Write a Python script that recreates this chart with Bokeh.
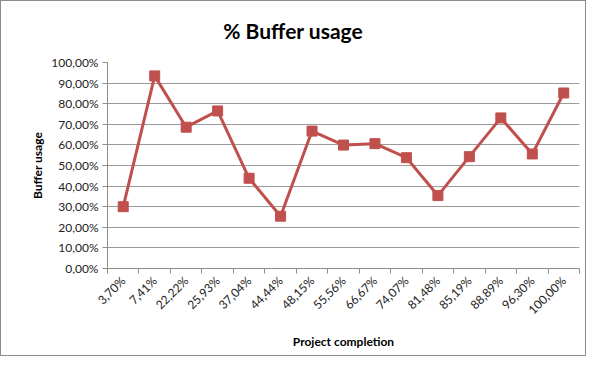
from math import pi
from bokeh.plotting import figure
from bokeh.layouts import column
from bokeh.models import FixedTicker, Range1d, ColumnDataSource, Div
from bokeh.embed import file_html
from bokeh.resources import INLINE

categories = ["3,70%", "7,41%", "22,22%", "25,93%", "37,04%", "44,44%", "48,15%", "55,56%",
              "66,67%", "74,07%", "81,48%", "85,19%", "88,89%", "96,30%", "100,00%"]
usage = [0.300, 0.935, 0.686, 0.765, 0.438, 0.254, 0.667, 0.599, 0.606, 0.538, 0.354, 0.543, 0.731, 0.556, 0.852]
y_ticks = [0.0, 0.1, 0.2, 0.3, 0.4, 0.5, 0.6, 0.7, 0.8, 0.9, 1.0]
y_labels = ["0,00%", "10,00%", "20,00%", "30,00%", "40,00%", "50,00%", "60,00%", "70,00%", "80,00%", "90,00%", "100,00%"]
title_text = "% Buffer usage"

xs = [i + 0.5 for i in range(len(categories))]
src = ColumnDataSource(dict(x=xs, y=usage))

FONT = "Lato"
W = 584
TITLE_H = 53

title = Div(text=title_text, width=W, height=TITLE_H,
            styles={"font-family": FONT, "font-size": "21px", "font-weight": "bold",
                    "color": "#000000", "text-align": "center", "width": f"{W}px",
                    "line-height": "59px", "margin": "0", "padding": "0"})

p = figure(width=W, height=354 - TITLE_H, output_backend="svg", toolbar_location=None,
           x_range=Range1d(0, len(categories)), y_range=Range1d(0, 1),
           min_border_left=106, min_border_right=6, min_border_top=8, min_border_bottom=87)

p.line("x", "y", source=src, line_color="#C0504D", line_width=3)
p.scatter("x", "y", source=src, marker="square", size=10, fill_color="#C0504D", line_color="#C0504D")

p.outline_line_color = None
p.xgrid.grid_line_color = None
p.ygrid.grid_line_color = "#9a9a9a"
p.ygrid.grid_line_width = 1

# x axis
p.xaxis.ticker = FixedTicker(ticks=xs, minor_ticks=list(range(len(categories) + 1)))
p.xaxis.major_label_overrides = {x: c for x, c in zip(xs, categories)}
p.xaxis.major_tick_line_color = None
p.xaxis.minor_tick_line_color = "#8c8c8c"
p.xaxis.minor_tick_in = 0
p.xaxis.minor_tick_out = 5
p.xaxis.major_label_orientation = pi / 4
p.xaxis.axis_line_color = "#8c8c8c"
p.xaxis.axis_label = "Project completion"
p.xaxis.axis_label_standoff = 9

# y axis
p.yaxis.ticker = FixedTicker(ticks=y_ticks)
p.yaxis.major_label_overrides = {t: l for t, l in zip(y_ticks, y_labels)}
p.yaxis.minor_tick_line_color = None
p.yaxis.major_tick_in = 0
p.yaxis.major_tick_out = 5
p.yaxis.major_tick_line_color = "#8c8c8c"
p.yaxis.axis_line_color = "#8c8c8c"
p.yaxis.axis_label = "Buffer usage"
p.yaxis.axis_label_standoff = 3

for ax in (p.xaxis, p.yaxis):
    ax.major_label_text_font = FONT
    ax.major_label_text_font_size = "12px"
    ax.major_label_text_color = "#222222"
    ax.axis_label_text_font = FONT
    ax.axis_label_text_font_size = "12px"
    ax.axis_label_text_font_style = "bold"
    ax.axis_label_text_color = "#000000"
    ax.major_label_standoff = 4

layout = column(title, p, spacing=0, styles={"border": "1px solid #8c8c8c"})

open("out.html", "w").write(file_html(layout, INLINE))
